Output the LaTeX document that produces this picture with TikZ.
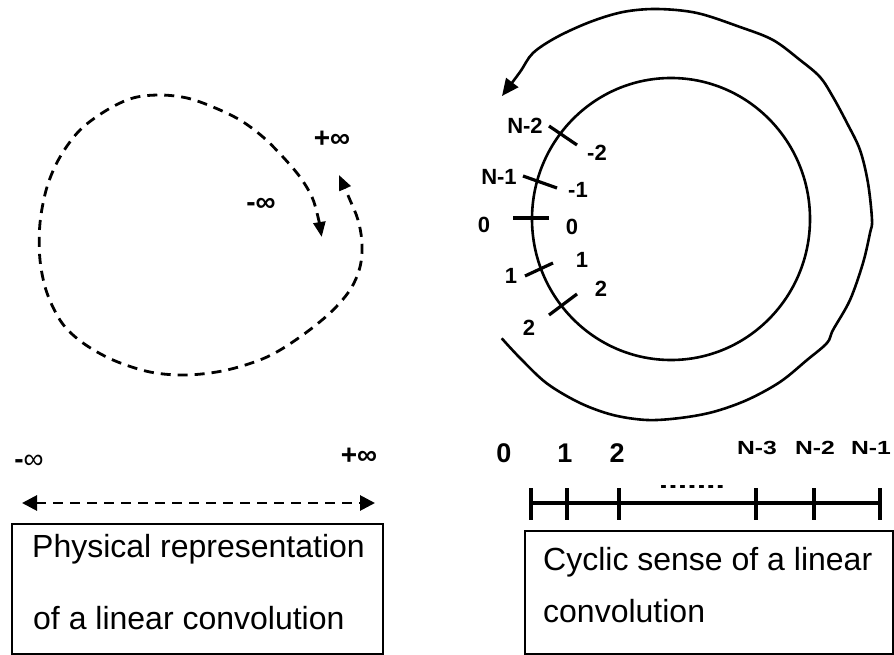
\documentclass[tikz,border=0pt]{standalone}
\usepackage{fontspec}
\setmainfont{Liberation Sans}
\usetikzlibrary{arrows.meta}
\begin{document}
\begin{tikzpicture}[x=1pt,y=-1pt,
  dashline/.style={line width=2.8pt, dash pattern=on 10pt off 7pt},
  solidline/.style={line width=2.6pt},
  tickline/.style={line width=3.2pt},
  lbl/.style={font=\fontsize{22}{26}\selectfont\bfseries, inner sep=0pt},
  inflbl/.style={font=\fontsize{28}{32}\selectfont\bfseries, inner sep=0pt},
  numlbl/.style={font=\fontsize{27}{30}\selectfont\bfseries, inner sep=0pt},
  nlbl/.style={font=\fontsize{19}{22}\selectfont\bfseries, inner sep=0pt, xscale=1.3},
  boxtxt/.style={font=\fontsize{32}{36}\selectfont, inner sep=0pt, anchor=base west},
  capbox/.style={draw, line width=1.2pt, inner sep=0pt}
]
\useasboundingbox (0,0) rectangle (894,655);

% ---------- left: dashed loop ----------
\draw[dashline, {Triangle[length=15pt,width=12pt]}-{Triangle[length=15pt,width=12pt]}]
  plot[smooth, tension=0.55] coordinates {
  (321.7,237) (318,217) (312,197) (300,177) (283,157) (263,137) (240,120)
  (213,107) (187,98) (160,95) (133,98) (107,110) (80,130) (60,157) (47,187)
  (40,223) (40,260) (47,293) (62,323) (83,343) (113,360) (150,372) (187,375)
  (227,370) (267,357) (300,337) (330,313) (350,290) (360,267) (362,243)
  (358,220) (350,200) (339,175)};
\node[inflbl] (pinfA) at (332,139) {+∞};
\node[inflbl] (minfA) at (261,205) {-∞};

% ---------- left: line with arrows ----------
\coordinate (la) at (22,503);
\coordinate (lb) at (375,503);
\draw[dashline, {Triangle[length=15pt,width=15pt]}-{Triangle[length=15pt,width=15pt]}] (la) -- (lb);
\node[font=\fontsize{28}{32}\selectfont, inner sep=0pt] (minfB) at (29,462) {\textbf{-}∞};
\node[inflbl] (pinfB) at (359,456) {+∞};

% ---------- left box ----------
\node[capbox, minimum width=371pt, minimum height=130pt] (boxL) at (197.5,589) {};
\node[boxtxt] (tL1) at (32,557) {Physical representation};
\node[boxtxt] (tL2) at (33,629) {of a linear convolution};

% ---------- right: circles ----------
\draw[solidline] (671,219) circle[x radius=139, y radius=141];
\draw[solidline, -{Triangle[length=17pt,width=15pt]}]
  plot[smooth, tension=0.55] coordinates {
  (501.7,338.3) (520,358) (546.7,383.3) (580,403) (613,415) (647,420) (680,418)
  (713,412) (747,400) (780,382) (807,360) (827,343) (833,330) (850,300)
  (863,263) (870,233) (872,220) (868,183) (860,150) (847,123) (833,97)
  (820,77) (800,60) (773,40) (740,27) (697,13) (657,9) (623,12) (590,22)
  (557,37) (533,53) (520,72) (502,96)};

% ticks on the inner circle
\draw[tickline] (549,126) -- (577,145);
\draw[tickline] (523,176) -- (557,188);
\draw[tickline] (513,218) -- (549,218);
\draw[tickline] (525,276) -- (553,263);
\draw[tickline] (549,315) -- (577,294);

\node[lbl] (cN2) at (525,126) {N-2};
\node[lbl] (cm2) at (597,153) {-2};
\node[lbl] (cN1) at (499,177) {N-1};
\node[lbl] (cm1) at (578,190) {-1};
\node[lbl] (c0L) at (484,225) {0};
\node[lbl] (c0R) at (572,227) {0};
\node[lbl] (c1L) at (511,276) {1};
\node[lbl] (c1R) at (582,260) {1};
\node[lbl] (c2L) at (529,328) {2};
\node[lbl] (c2R) at (601,289) {2};

% ---------- right: number line ----------
\coordinate (n0) at (531,503);
\coordinate (nE) at (880,503);
\draw[tickline] (n0) -- (nE);
\foreach \xx in {531,567,619,756,814,880}
  \draw[tickline] (\xx,488) -- (\xx,520);
\node[numlbl, anchor=base] (b0) at (504,462) {0};
\node[numlbl, anchor=base] (b1) at (565,462) {1};
\node[numlbl, anchor=base] (b2) at (617,462) {2};
\node[nlbl, anchor=base] (bN3) at (757,454) {N-3};
\node[nlbl, anchor=base] (bN2) at (815,454) {N-2};
\node[nlbl, anchor=base] (bN1) at (871,454) {N-1};
\node[font=\fontsize{20}{22}\selectfont\bfseries, inner sep=0pt, xscale=1.7, anchor=base] (dots) at (692,488) {.......};

% ---------- right box ----------
\node[capbox, minimum width=368pt, minimum height=123pt] (boxR) at (709,592.5) {};
\node[boxtxt] (tR1) at (543,570) {Cyclic sense of a linear};
\node[boxtxt] (tR2) at (543,622) {convolution};
\end{tikzpicture}
\end{document}
